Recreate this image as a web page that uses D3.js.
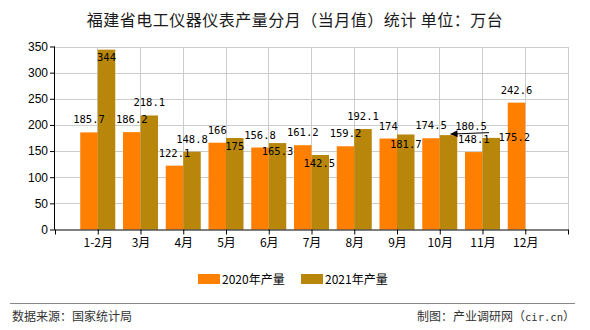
<!DOCTYPE html>
<html><head><meta charset="utf-8">
<script src="https://cdn.jsdelivr.net/npm/d3@7"></script>
<style>
html,body{margin:0;padding:0;background:#fff;}
svg{display:block;}
</style>
</head><body>
<svg id="chart" width="590" height="330"></svg>
<script>
const categories = ["1-2月","3月","4月","5月","6月","7月","8月","9月","10月","11月","12月"];
const values2020 = [185.7,186.2,122.1,166,156.8,161.2,159.2,174,174.5,148.1,242.6];
const values2021 = [344,218.1,148.8,175,165.3,142.5,192.1,181.7,180.5,175.2,null];
const yTicks = [0,50,100,150,200,250,300,350];
const seriesNames = ["2020年产量","2021年产量"];
const colors = ["#FF8000","#B8860B"];

// label nudges (layout only): per category index for the 2021 series
const nudge2021 = {0:{dx:0,dy:20.5},3:{dx:0,dy:21},4:{dx:0,dy:21},5:{dx:-1,dy:21},7:{dx:0,dy:22.5},8:{dx:22.5,dy:4,leader:true},9:{dx:23,dy:12}};

const svg = d3.select("#chart");
const plotLeft = 55, plotRight = 568, plotTop = 46.5, plotBottom = 229.5;

const x = d3.scalePoint().domain(["_s", ...categories, "_e"]).range([plotLeft, plotRight]);
const y = d3.scaleLinear().domain([0, 350]).range([plotBottom, plotTop]);
const barW = 17.5;

// grid
const grid = svg.append("g");
grid.selectAll("line.h").data(yTicks.filter(d => d > 0)).join("line")
  .attr("x1", plotLeft).attr("x2", plotRight)
  .attr("y1", d => y(d) + 0.5).attr("y2", d => y(d) + 0.5)
  .attr("stroke", "#cccccc").attr("stroke-width", 1).attr("shape-rendering","crispEdges");
grid.selectAll("line.v").data(x.domain().slice(1)).join("line")
  .attr("x1", d => x(d)).attr("x2", d => x(d))
  .attr("y1", plotTop).attr("y2", plotBottom)
  .attr("stroke", "#cccccc").attr("stroke-width", 1).attr("shape-rendering","crispEdges");

// bars
const series = [values2020, values2021];
series.forEach((vals, s) => {
  svg.append("g").selectAll("rect").data(categories.map((c, i) => ({c, v: vals[i]})).filter(d => d.v != null))
    .join("rect")
    .attr("x", d => x(d.c) + (s === 0 ? -barW : 0))
    .attr("width", barW)
    .attr("y", d => y(d.v))
    .attr("height", d => plotBottom - y(d.v))
    .attr("fill", colors[s]);
});

// axes
const yAxis = svg.append("g").attr("transform", `translate(${plotLeft},0)`)
  .call(d3.axisLeft(y).tickValues(yTicks).tickSize(5).tickPadding(2).tickFormat(d3.format("d")));
yAxis.select(".domain").attr("d", `M-0.5,${plotTop}V${plotBottom}`);
yAxis.selectAll("text").attr("font-family", "Liberation Sans, Arial, sans-serif").attr("font-size", 12).attr("fill", "#000");

const xAxis = svg.append("g").attr("transform", `translate(0,${plotBottom})`)
  .call(d3.axisBottom(x).tickSize(5).tickPadding(4).tickFormat(d => (d.startsWith("_") ? "" : d)));
xAxis.select(".domain").attr("d", `M${plotLeft},0.5H${plotRight}`);
xAxis.selectAll("text").attr("font-family", "Noto Sans CJK SC, sans-serif").attr("font-size", 12).attr("fill", "#000");

// labels
const labelFont = "DejaVu Sans Mono, monospace";
series.forEach((vals, s) => {
  categories.forEach((c, i) => {
    const v = vals[i];
    if (v == null) return;
    const cx = x(c) + (s === 0 ? -barW / 2 : barW / 2);
    const n = (s === 1 && nudge2021[i]) ? nudge2021[i] : {dx: 0, dy: 0};
    const tx = cx + n.dx, ty = y(v) - 9 + n.dy;
    svg.append("text").attr("x", tx).attr("y", ty)
      .attr("text-anchor", "middle").attr("font-family", labelFont).attr("font-size", 10.5)
      .attr("fill", "#000").text(String(v));
    if (n.leader) {
      const x0 = cx + 2, y0 = y(v) - 1;
      const x1 = tx + 18, y1 = ty + 2.5;
      svg.append("line").attr("x1", x0).attr("y1", y0).attr("x2", x1).attr("y2", y1)
        .attr("stroke", "#000").attr("stroke-width", 1);
      const ang = Math.atan2(y1 - y0, x1 - x0);
      const L = 7, W = 3.5;
      const p = [[x0, y0],
        [x0 + L*Math.cos(ang) - W*Math.sin(ang), y0 + L*Math.sin(ang) + W*Math.cos(ang)],
        [x0 + L*Math.cos(ang) + W*Math.sin(ang), y0 + L*Math.sin(ang) - W*Math.cos(ang)]];
      svg.append("path").attr("d", d3.line()(p) + "Z").attr("fill", "#000");
    }
  });
});

// title
svg.append("text").attr("x", 295).attr("y", 26).attr("text-anchor", "middle")
  .attr("font-family", "Noto Sans CJK SC, sans-serif").attr("font-size", 16).attr("fill", "#1a1a1a")
  .attr("letter-spacing", 0.5)
  .text("福建省电工仪器仪表产量分月（当月值）统计 单位：万台");

// legend
const legendX = [198, 301];
seriesNames.forEach((name, s) => {
  svg.append("rect").attr("x", legendX[s]).attr("y", 274).attr("width", 22).attr("height", 10).attr("fill", colors[s]);
  svg.append("text").attr("x", legendX[s] + 24).attr("y", 283.5)
    .attr("font-family", "Noto Sans CJK SC, sans-serif").attr("font-size", 12).attr("fill", "#000").text(name);
});

// footer
svg.append("line").attr("x1", 10).attr("x2", 575).attr("y1", 303.5).attr("y2", 303.5).attr("stroke", "#888").attr("stroke-width", 1);
svg.append("text").attr("x", 12).attr("y", 321)
  .attr("font-family", "Noto Sans CJK SC, sans-serif").attr("font-size", 12).attr("fill", "#333").text("数据来源：国家统计局");
const credit = svg.append("text").attr("x", 575).attr("y", 321).attr("text-anchor", "end")
  .attr("font-family", "Noto Sans CJK SC, sans-serif").attr("font-size", 12).attr("fill", "#333");
credit.append("tspan").text("制图：产业调研网（");
credit.append("tspan").attr("font-family", "DejaVu Sans Mono, monospace").attr("font-size", 10.5).text("cir.cn");
credit.append("tspan").text("）");
</script>
</body></html>
